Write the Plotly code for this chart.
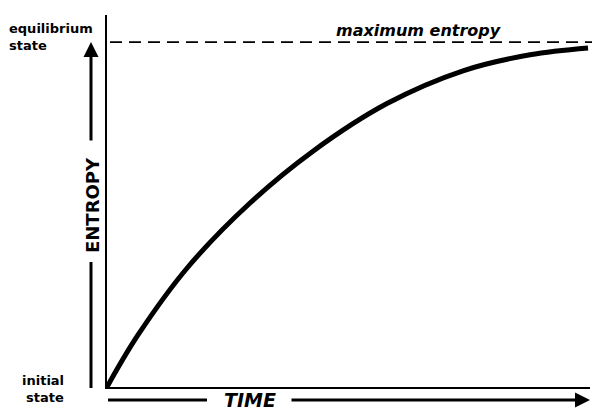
import plotly.graph_objects as go

# ---- data (time in % of plotted span, entropy in % of axis height) ----
time_vals = [0, 6.42, 16.77, 29.61, 42.65, 57.97, 73.71, 87.58, 99.59]
entropy_vals = [0, 13.98, 32.26, 49.46, 63.4, 76.2, 85.0, 89.3, 91.13]
max_entropy = 92.7

W, H = 595, 410
L, R, T, B = 107, 5, 15, 23
PW, PH = W - L - R, H - T - B

def px(x):  # pixel x -> paper
    return (x - L) / PW

def py(y):  # pixel y -> paper
    return (H - B - y) / PH

fig = go.Figure()
fig.add_trace(go.Scatter(x=time_vals, y=entropy_vals, mode="lines",
                         line=dict(color="black", width=5, shape="spline", smoothing=1.0),
                         hoverinfo="skip", showlegend=False))

fig.add_shape(type="line", xref="paper", yref="y", x0=px(110), x1=px(592),
              y0=max_entropy, y1=max_entropy,
              line=dict(color="black", width=1.6, dash="12px,7px"))

font_lbl = dict(family="DejaVu Sans", size=13, color="black")
ann = []
ann.append(dict(text="<b>equilibrium</b>", x=px(7), y=py(29), xanchor="left", yanchor="middle",
                font=font_lbl, showarrow=False))
ann.append(dict(text="<b>state</b>", x=px(7), y=py(45), xanchor="left", yanchor="middle",
                font=font_lbl, showarrow=False))
ann.append(dict(text="<b>initial</b>", x=px(66), y=py(380), xanchor="right", yanchor="middle",
                font=font_lbl, showarrow=False))
ann.append(dict(text="<b>state</b>", x=px(66), y=py(397), xanchor="right", yanchor="middle",
                font=font_lbl, showarrow=False))
ann.append(dict(text="<b><i>maximum entropy</i></b>", x=px(418), y=py(31), xanchor="center", yanchor="middle",
                font=dict(family="DejaVu Sans", size=16, color="black"), showarrow=False))
ann.append(dict(text="<b>ENTROPY</b>", x=px(92), y=py(205), xanchor="center", yanchor="middle",
                textangle=-90, font=dict(family="DejaVu Sans", size=18, color="black"), showarrow=False))
ann.append(dict(text="<b><i>TIME</i></b>", x=px(250), y=py(400), xanchor="center", yanchor="middle",
                font=dict(family="DejaVu Sans", size=19, color="black"), showarrow=False))
# arrows
ann.append(dict(x=px(91), y=py(42), ax=0, ay=100, text="",
                showarrow=True, arrowhead=2, arrowsize=1, arrowwidth=3, arrowcolor="black"))
ann.append(dict(x=px(590), y=py(400), ax=-300, ay=0, text="",
                showarrow=True, arrowhead=2, arrowsize=1, arrowwidth=3, arrowcolor="black"))
for a in ann:
    a.setdefault("xref", "paper")
    a.setdefault("yref", "paper")
fig.update_layout(annotations=ann)

# plain segments (no arrowheads)
fig.add_shape(type="line", xref="paper", yref="paper", x0=px(91), x1=px(91), y0=py(262), y1=py(388),
              line=dict(color="black", width=3))
fig.add_shape(type="line", xref="paper", yref="paper", x0=px(108), x1=px(207), y0=py(400), y1=py(400),
              line=dict(color="black", width=3))

fig.update_xaxes(range=[0, 100], showline=True, linecolor="black", linewidth=2,
                 showgrid=False, zeroline=False, showticklabels=False, ticks="")
fig.update_yaxes(range=[0, 100], showline=True, linecolor="black", linewidth=1.5,
                 showgrid=False, zeroline=False, showticklabels=False, ticks="")
fig.update_layout(width=W, height=H, margin=dict(l=L, r=R, t=T, b=B),
                  plot_bgcolor="white", paper_bgcolor="white", showlegend=False)
fig.write_html("out.html", config={"displayModeBar": False},
               post_script="document.body.style.margin='0';document.body.style.overflow='hidden';")
